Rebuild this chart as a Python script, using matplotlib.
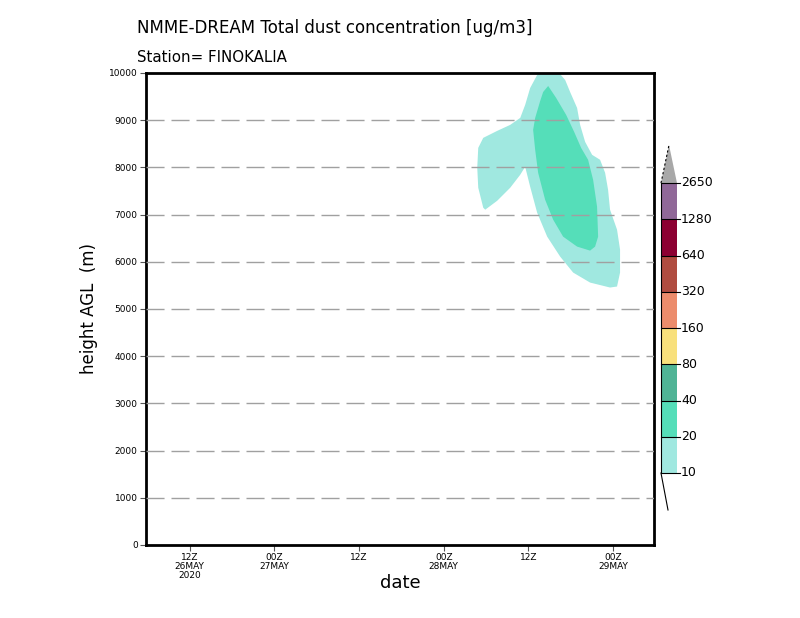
import matplotlib
matplotlib.use("Agg")
import matplotlib.pyplot as plt
from matplotlib.patches import Polygon, Rectangle

# ---- data -------------------------------------------------------------
# time axis: hours since 2020-05-26 00Z
x_ticks = [12, 24, 36, 48, 60, 72]
x_ticklabels = ["12Z\n26MAY\n2020", "00Z\n27MAY", "12Z", "00Z\n28MAY", "12Z", "00Z\n29MAY"]
y_ticks = [0, 1000, 2000, 3000, 4000, 5000, 6000, 7000, 8000, 9000, 10000]

levels = [10, 20, 40, 80, 160, 320, 640, 1280, 2650]
level_colors = ["#a0e8e0", "#55deb9", "#50b496", "#f8e07c", "#ec8c6c",
                "#b04c40", "#8c0032", "#906898"]
over_color = "#a8a8a8"

# contour >= 10 ug/m3 (time [h], height [m])
outer_t = [60.25, 61.24, 62.37, 64.07, 65.21, 65.91, 66.90, 67.33, 68.04, 69.03,
           70.16, 70.87, 71.29, 71.57, 72.56, 72.99, 72.99, 72.56, 71.57, 68.74,
           66.34, 64.50, 62.66, 61.24, 60.25, 59.54, 58.84, 57.42, 55.58, 53.88,
           53.60, 52.89, 52.75, 52.89, 53.60, 55.58, 57.42, 58.84, 59.54]
outer_h = [9683, 9958, 10050, 10050, 9852, 9598, 9260, 8901, 8541, 8266,
           8161, 7886, 7527, 7104, 6681, 6258, 5772, 5476, 5455, 5560,
           5772, 6110, 6533, 7040, 7590, 8013, 7844, 7569, 7294, 7104,
           7146, 7569, 7992, 8414, 8626, 8774, 8901, 9049, 9324]
# contour >= 20 ug/m3
inner_t = [62.80, 63.93, 65.35, 66.48, 67.47, 68.46, 69.17, 69.73, 69.88, 69.45,
           68.74, 66.90, 64.92, 63.51, 62.37, 61.38, 60.96, 60.67, 60.96, 61.67, 62.09]
inner_h = [9725, 9472, 9112, 8753, 8414, 8161, 7738, 7167, 6533, 6322,
           6237, 6322, 6533, 6892, 7315, 7886, 8372, 8795, 9049, 9408, 9598]

# ---- figure -----------------------------------------------------------
W, H = 800, 618
fig = plt.figure(figsize=(8, 6.18), dpi=100)
fig.patch.set_facecolor("white")

def fx(px):
    return px / W

def fy(py):
    return 1 - py / H

ax = fig.add_axes([fx(146), fy(545), fx(654) - fx(146), fy(73) - fy(545)])
ax.set_xlim(5.8, 77.8)
ax.set_ylim(0, 10000)

# grid
for yv in y_ticks[1:-1]:
    ax.axhline(yv, color="#a0a0a0", lw=1.0, dashes=(13, 5), zorder=3)

ax.fill(outer_t, outer_h, color=level_colors[0], lw=0, zorder=1)
ax.fill(inner_t, inner_h, color=level_colors[1], lw=0, zorder=2)

ax.set_xticks(x_ticks)
ax.set_xticklabels(x_ticklabels, fontsize=6.5, linespacing=0.95)
ax.set_yticks(y_ticks)
ax.set_yticklabels([str(v) for v in y_ticks], fontsize=6.5)
ax.tick_params(direction="out", length=4, width=0.8, color="#555555", pad=2)
for s in ax.spines.values():
    s.set_linewidth(2.0)

ax.set_xlabel("date", fontsize=13, labelpad=-4)
ax.set_ylabel("height AGL  (m)", fontsize=12, labelpad=8)

fig.text(fx(137), fy(28), "NMME-DREAM Total dust concentration [ug/m3]",
         fontsize=12, ha="left", va="center")
fig.text(fx(137), fy(57), "Station= FINOKALIA", fontsize=10.8, ha="left", va="center")

# ---- colorbar (pixel coordinate axes) ----------------------------------
cax = fig.add_axes([0, 0, 1, 1], facecolor="none")
cax.set_xlim(0, W)
cax.set_ylim(H, 0)
cax.axis("off")
x0, x1 = 661, 677
ybot, ytop = 473, 183
step = (ybot - ytop) / (len(levels) - 1)
for i, c in enumerate(level_colors):
    yb = ybot - i * step
    cax.add_patch(Rectangle((x0, yb - step), x1 - x0, step, facecolor=c, edgecolor="none"))
for i, lv in enumerate(levels):
    yb = ybot - i * step
    cax.plot([x0, x1 + 3], [yb, yb], color="black", lw=0.8)
    cax.text(x1 + 4, yb, str(lv), fontsize=9, ha="left", va="center")
cax.plot([x0, x0], [ytop, ybot], color="black", lw=0.8)
cax.add_patch(Polygon([(x0, ytop), (x1, ytop), (669, 145)], closed=True,
                      facecolor=over_color, edgecolor="none"))
cax.plot([x0, 669], [ytop, 145], color="black", lw=0.8, ls=(0, (2, 2)))
cax.plot([x0, 668], [ybot, 510], color="black", lw=0.8)

fig.savefig("out.png", dpi=100, facecolor="white")
